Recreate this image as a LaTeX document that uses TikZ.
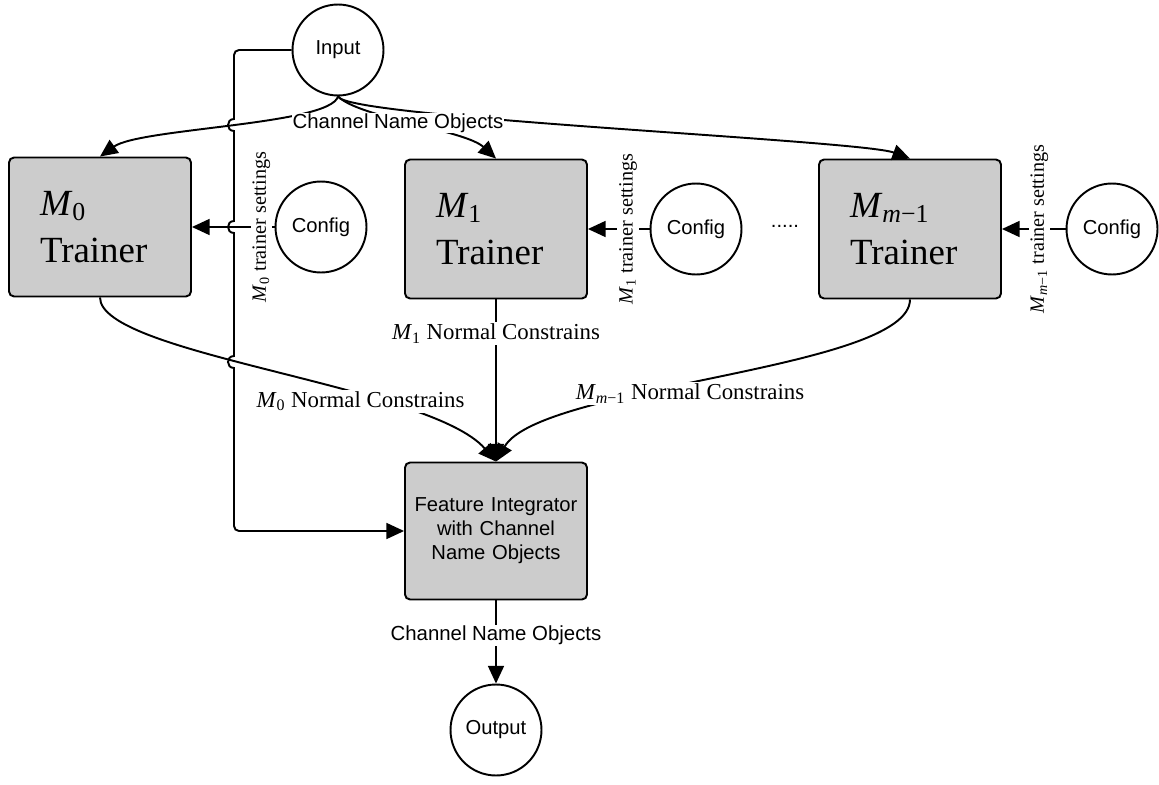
\documentclass[tikz,border=0pt]{standalone}
\usepackage{fontspec}
\setmainfont{Liberation Serif}
\setsansfont{Liberation Sans}
\usetikzlibrary{arrows.meta}
\definecolor{boxgray}{HTML}{CCCCCC}
\newcommand{\mname}[1]{\textit{M}\textsubscript{#1}}

\tikzset{
  circ/.style={circle, draw, line width=1.1pt, minimum size=1.82cm, inner sep=0pt,
               font=\sffamily\fontsize{11.5}{13.6}\selectfont},
  trainer/.style={rectangle, rounded corners=0.1cm, draw, line width=1.1pt, fill=boxgray,
                  minimum width=3.64cm, minimum height=2.78cm, inner xsep=0.62cm,
                  text width=2.4cm, align=left, font=\fontsize{21}{26.6}\selectfont},
  integ/.style={rectangle, rounded corners=0.1cm, draw, line width=1.1pt, fill=boxgray,
                minimum width=3.64cm, minimum height=2.74cm, text width=3.4cm, align=center,
                font=\sffamily\fontsize{11.5}{13.6}\selectfont},
  arr/.style={line width=1.1pt, -{Triangle[length=10pt,width=9pt]}},
  setlbl/.style={fill=white, inner sep=1pt, rotate=90, font=\fontsize{11.5}{13}\selectfont},
  conlbl/.style={fill=white, inner sep=1pt, font=\fontsize{13}{15}\selectfont},
  objlbl/.style={fill=white, inner sep=0.5pt, font=\sffamily\fontsize{11.6}{13.6}\selectfont},
}

\begin{document}
\begin{tikzpicture}[x=0.02cm, y=-0.02cm]
  \useasboundingbox (0,0) rectangle (1159,784);

  % nodes
  \node[circ] (inp) at (338,50) {Input};
  \node[trainer] (m0) at (100,227) {\mname{0}\\Trainer};
  \node[trainer] (m1) at (496,229) {\mname{1}\\Trainer};
  \node[trainer] (mm) at (910,229) {\mname{\textit{m}−1}\\Trainer};
  \node[circ] (cfga) at (321,227) {Config};
  \node[circ] (cfgb) at (696,229) {Config};
  \node[circ] (cfgc) at (1112,229) {Config};
  \node[font=\sffamily\fontsize{11.5}{13.6}\selectfont] (dots) at (785,226) {.....};
  \node[integ] (fi) at (496,531) {Feature Integrator\\with Channel\\Name Objects};
  \node[circ] (outp) at (496,730) {Output};

  % input to the trainers
  \draw[arr] (inp.south) .. controls (330,125) and (140,128) .. (m0.north);
  \draw[arr] (inp.south) .. controls (360,118) and (465,130) .. (m1.north);
  \draw[arr] (inp.south) .. controls (345,118) and (860,140) .. (mm.north);
  \node[objlbl] (cnolbl) at (398,123) {Channel Name Objects};

  % trainer settings
  \draw[arr] (cfga) -- node[setlbl, pos=0.16] {\mname{0} trainer settings} (m0);
  \draw[arr] (cfgb) -- node[setlbl, pos=0.35] {\mname{1} trainer settings} (m1);
  \draw[arr] (cfgc) -- node[setlbl, pos=0.41] {\mname{\textit{m}−1} trainer settings} (mm);

  % constraints to the integrator
  \draw[arr] (m0.south) .. controls (100,355) and (430,385) ..
    node[conlbl, pos=0.66, yshift=-2.5pt] {\mname{0} Normal Constrains} (fi.north);
  \draw[arr] (m1) -- node[conlbl, pos=0.21] {\mname{1} Normal Constrains} (fi);
  \draw[arr] (mm.south) .. controls (910,370) and (540,385) ..
    node[conlbl, pos=0.55, yshift=-5pt] {\mname{\textit{m}−1} Normal Constrains} (fi.north);

  % input passed on, hopping over the crossings
  \draw[arr] (inp.west) [rounded corners=0.1cm] -| (234,90) [sharp corners] -- (234,119)
    .. controls (226,119) and (226,131) .. (234,131) -- (234,221)
    .. controls (226,221) and (226,233) .. (234,233) -- (234,356)
    .. controls (226,356) and (226,368) .. (234,368) -- (234,480)
    [rounded corners=0.1cm] |- (fi.west);

  % output
  \draw[arr] (fi) -- node[objlbl, pos=0.42] {Channel Name Objects} (outp);
\end{tikzpicture}
\end{document}
